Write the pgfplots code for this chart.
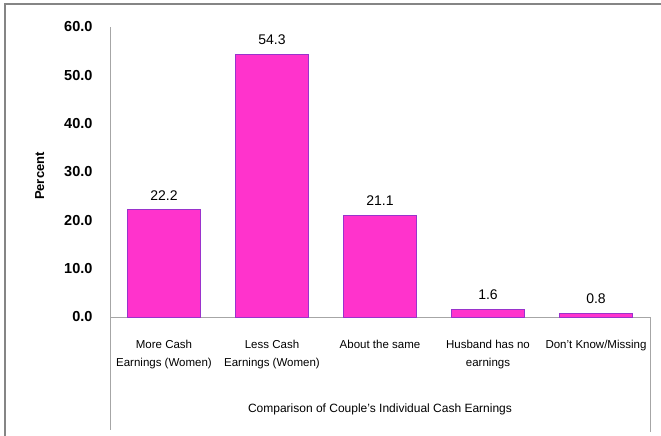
\documentclass[border=0pt]{standalone}
\usepackage{pgfplots}
\pgfplotsset{compat=1.18}
\usepackage{fontspec}
\setmainfont{Liberation Sans}
\definecolor{barfill}{HTML}{FF33CC}
\definecolor{baredge}{HTML}{9933CC}
\definecolor{framegray}{HTML}{858585}
\definecolor{axgray}{HTML}{A6A6A6}
\begin{document}
\begin{tikzpicture}[x=1pt,y=1pt]
\useasboundingbox (0,0) rectangle (661,436);
\draw[framegray, line width=2pt] (5,0) -- (5,432) -- (661,432);
\begin{axis}[
  at={(110pt,119pt)}, anchor=south west,
  scale only axis, width=540pt, height=290pt,
  xmin=-0.5, xmax=4.5, ymin=0, ymax=60,
  axis lines*=left,
  axis line style={axgray, line width=0.8pt},
  clip=false,
  major tick length=0pt,
  ytick={0,10,20,30,40,50,60},
  xtick={0,1,2,3,4},
  xticklabels={{More Cash\\Earnings (Women)},{Less Cash\\Earnings (Women)},{About the same},{Husband has no\\earnings},{Don't Know/Missing}},
  xticklabel style={align=center, font=\fontsize{11.5}{18}\selectfont, anchor=north, yshift=-20pt},
  /pgf/number format/assume math mode=true,
  yticklabel style={font=\bfseries\fontsize{14.5}{16}\selectfont, /pgf/number format/.cd, fixed, fixed zerofill, precision=1, /tikz/.cd, xshift=-14pt},
  ylabel={Percent},
  ylabel style={font=\bfseries\fontsize{13}{15}\selectfont, at={(axis description cs:-0.13,0.486)}, anchor=center},
  xlabel={Comparison of Couple's Individual Cash Earnings},
  xlabel style={font=\fontsize{12}{14}\selectfont, at={(axis description cs:0.5,-0.32)}, anchor=center},
  ybar, bar width=73pt,
  nodes near coords,
  nodes near coords style={font=\fontsize{14}{16}\selectfont, /pgf/number format/.cd, fixed, fixed zerofill, precision=1, /tikz/.cd, yshift=6pt},
]
\addplot[fill=barfill, draw=baredge, line width=0.6pt] coordinates {(0,22.2) (1,54.3) (2,21.1) (3,1.6) (4,0.8)};
\draw[axgray, line width=0.8pt] (rel axis cs:0,0) -- (rel axis cs:0,-0.39);
\draw[axgray, line width=0.8pt] (rel axis cs:1,0) -- (rel axis cs:1,-0.397);
\end{axis}
\end{tikzpicture}
\end{document}
